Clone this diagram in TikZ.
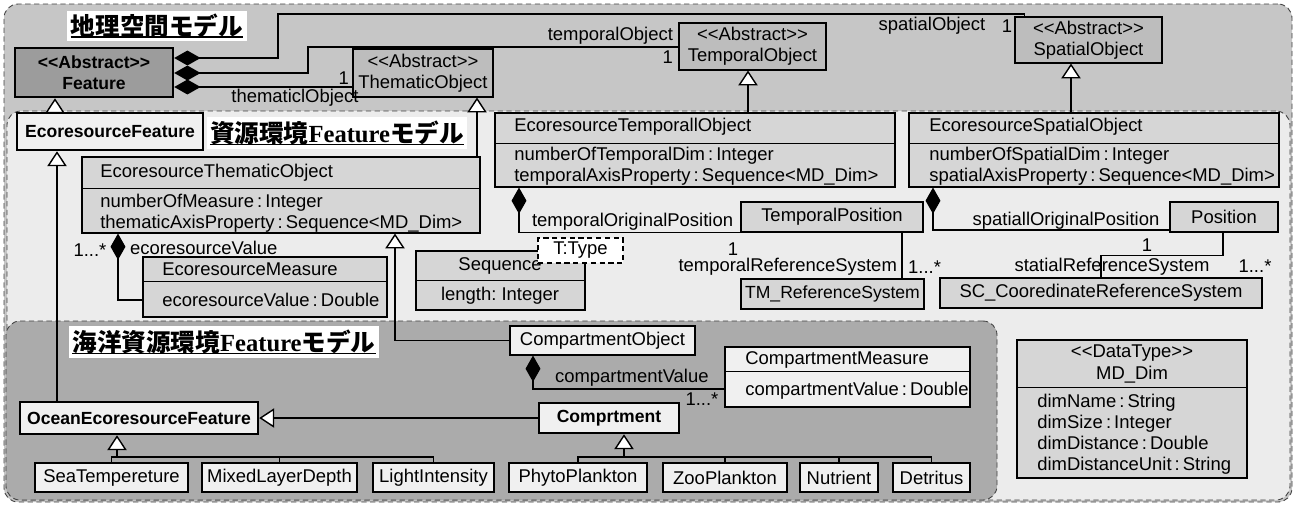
\documentclass[tikz,border=0pt]{standalone}
\usepackage{fontspec}
\setmainfont{Liberation Sans}
\newfontfamily\cjk{Noto Sans CJK JP}
\newfontfamily\rmtitle{Liberation Serif}
\usetikzlibrary{arrows.meta, fit, backgrounds, calc, positioning}
\definecolor{GeoF} {HTML}{C6C6C6}
\definecolor{ResF} {HTML}{ECECEC}
\definecolor{SeaF} {HTML}{ABABAB}
\definecolor{AbsF} {HTML}{BDBDBD}
\definecolor{FeatF}{HTML}{9C9C9C}
\definecolor{ClsF} {HTML}{D6D6D6}
\definecolor{LitF} {HTML}{F0F0F0}
\tikzset{
  cls/.style={
    rectangle, draw=black, fill=#1, inner sep=0pt,
    line width=0.6pt,
  },
  cls/.default=ClsF,
  bcls/.style={cls=#1, line width=1.4pt},
  bcls/.default=LitF,
  leaf/.style={cls=LitF, line width=1.4pt},
  % centred class caption
  cap/.style={label={[lbl, align=center]center:{#1}}},
  bcap/.style={label={[lbl, align=center, font=\fontsize{10}{12}\selectfont\bfseries]center:{#1}}},
  rgn/.style={
    draw=black!75, fill=#1, rounded corners=8pt,
    densely dashed, line width=0.5pt, inner sep=0pt,
  },
  txt/.style={anchor=west, inner sep=0pt, align=left, font=\fontsize{10.5}{12}\selectfont},
  lbl/.style={inner sep=1pt, font=\fontsize{10.5}{12}\selectfont},
  ttl/.style={fill=white, inner sep=2pt, font=\fontsize{14}{16}\selectfont\bfseries},
  uline/.style={line width=1.1pt},
  comp/.style={{Diamond[length=15pt,width=8.5pt]}-, line width=0.8pt},
  gen/.style={-{Triangle[length=8.5pt,width=11pt,fill=white]}, line width=0.8pt},
  asc/.style={line width=0.8pt},
}
\newcommand{\stereo}[1]{<{}<#1>{}>}
\begin{document}
\begin{tikzpicture}[x=0.02cm, y=-0.02cm]
  \useasboundingbox (0,0) rectangle (1295,505);
  % packages
  \node[rgn=GeoF, fit={(4,4) (1292,502)}]   (geo) {};
  \node[rgn=ResF, fit={(7,111) (1290,500)}] (res) {};
  \node[rgn=SeaF, fit={(6,321) (997,500)}]  (sea) {};
  \node[ttl] (geottl) at (157,26)  {\cjk 地理空間モデル};
  \node[ttl] (resttl) at (337,133) {{\cjk 資源環境}{\rmtitle Feature}{\cjk モデル}};
  \node[ttl] (seattl) at (224,342) {{\cjk 海洋資源環境}{\rmtitle Feature}{\cjk モデル}};
  \foreach \tt in {geottl, resttl, seattl}
    \draw[uline] ([xshift=2pt,yshift=2.5pt]\tt.south west) -- ([xshift=-2pt,yshift=2.5pt]\tt.south east);

  % geographic model
  \node[bcls=FeatF, bcap={\stereo{Abstract}\\Feature}, fit={(15,48) (173,97)}] (feat) {};
  \node[cls=AbsF, cap={\stereo{Abstract}\\ThematicObject}, fit={(353,49) (493,97)}]  (thm) {};
  \node[cls=AbsF, cap={\stereo{Abstract}\\TemporalObject}, fit={(679,23) (826,70)}]  (tmp) {};
  \node[cls=AbsF, cap={\stereo{Abstract}\\SpatialObject}, fit={(1015,17) (1162,63)}] (spa) {};

  \draw[comp] (feat.east |- 0,58) -| (278,14) -| ($(spa.north west)+(10,0)$);
  \node[lbl] (spal) at (932,26)  {spatialObject};
  \node[lbl] (spam) at (1007,26) {1};
  \draw[comp] (feat.east |- 0,73) -| (308,47) -- (tmp.west |- 0,47);
  \node[lbl, anchor=south east] (tmpl) at (675,46) {temporalObject};
  \node[lbl, anchor=north east] (tmpm) at (675,49) {1};
  \draw[comp] (feat.east |- 0,87) -- (thm.west |- 0,87);
  \node[lbl, anchor=south east] (thmm) at (351,87) {1};
  \node[lbl] (thml) at (295,98) {thematiclObject};

  % ecoresource feature model
  \node[bcls, bcap=EcoresourceFeature, fit={(17,113) (203,150)}] (ecf) {};

  \node[cls, fit={(82,157) (480,233)}] (eto) {};
  \node[txt] (etoh) at (100,173) {EcoresourceThematicObject};
  \node[txt] (etoa) at (100,213) {numberOfMeasure\,:\,Integer\\thematicAxisProperty\,:\,Sequence<MD\_Dim>};
  \draw (eto.west |- 0,188) -- (eto.east |- 0,188);

  \node[cls, fit={(495,113) (895,187)}] (etp) {};
  \node[txt] (etph) at (514,127) {EcoresourceTemporallObject};
  \node[txt] (etpa) at (514,166) {numberOfTemporalDim\,:\,Integer\\temporalAxisProperty\,:\,Sequence<MD\_Dim>};
  \draw (etp.west |- 0,143) -- (etp.east |- 0,143);

  \node[cls, fit={(909,113) (1279,187)}] (esp) {};
  \node[txt] (esph) at (929,127) {EcoresourceSpatialObject};
  \node[txt] (espa) at (929,166) {numberOfSpatialDim\,:\,Integer\\spatialAxisProperty\,:\,Sequence<MD\_Dim>};
  \draw (esp.west |- 0,143) -- (esp.east |- 0,143);

  \draw[gen] (ecf.north -| 55,0)   -- (feat.south -| 55,0);
  \draw[gen] (eto.north -| 477,0)  -- (thm.south -| 477,0);
  \draw[gen] (etp.north -| 748,0)  -- (tmp.south -| 748,0);
  \draw[gen] (esp.north -| 1071,0) -- (spa.south -| 1071,0);

  \node[cls, fit={(143,257) (387,317)}] (ems) {};
  \node[txt] (emsh) at (162,269) {EcoresourceMeasure};
  \node[txt] (emsa) at (162,300) {ecoresourceValue\,:\,Double};
  \draw (ems.west |- 0,281) -- (ems.east |- 0,281);
  \draw[comp] (eto.south -| 118,0) |- (ems.west |- 0,300);
  \node[lbl] (emsm) at (90,250) {1...*};
  \node[lbl, anchor=west] (emsr) at (128,248) {ecoresourceValue};

  \node[cls, fit={(416,251) (585,310)}] (seq) {};
  \node[lbl] (seqh) at (500,266) {Sequence};
  \node[lbl] (seqa) at (500,296) {length:\ Integer};
  \draw (seq.west |- 0,280) -- (seq.east |- 0,280);
  \node[cls=white, densely dashed, cap={T:Type}, fit={(538,238) (623,263)}] (seqt) {};

  \node[cls, cap=TemporalPosition, fit={(741,202) (923,232)}] (tpos) {};
  \node[cls, label={[lbl, font=\fontsize{10}{12}\selectfont]center:TM\_ReferenceSystem},
        fit={(741,279) (924,309)}] (tmrs) {};
  \node[cls, cap=Position, fit={(1170,202) (1278,232)}] (pos) {};
  \node[cls, cap=SC\_CooredinateReferenceSystem, fit={(940,278) (1262,308)}] (scrs) {};

  \draw[comp] (etp.south -| 519,0) |- (tpos.south west);
  \node[lbl, anchor=west] (tposr) at (530,222) {temporalOriginalPosition};
  \node[lbl] (tposm) at (733,249) {1};
  \draw[asc] (tpos.south -| 902,0) -- (tmrs.north -| 902,0);
  \node[lbl, anchor=east] (tmrsr) at (899,267) {temporalReferenceSystem};
  \node[lbl, anchor=west] (tmrsm) at (906,267) {1...*};

  \draw[comp] (esp.south -| 933,0) |- (pos.west |- 0,230);
  \node[lbl] (posr) at (1066,221) {spatiallOriginalPosition};
  \draw[asc] (pos.south -| 1223,0) -- ++(0,23) -| (scrs.north -| 1101,0);
  \node[lbl] (posm) at (1147,245) {1};
  \node[lbl] (scrsr) at (1112,267) {statialReferenceSystem};
  \node[lbl] (scrsm) at (1255,266) {1...*};

  \node[cls, fit={(1017,340) (1247,478)}] (mdd) {};
  \node[lbl, align=center] (mddh) at (1132,364) {\stereo{DataType}\\MD\_Dim};
  \node[txt] (mdda) at (1037,434) {dimName\,:\,String\\dimSize\,:\,Integer\\dimDistance\,:\,Double\\dimDistanceUnit\,:\,String};
  \draw (mdd.west |- 0,387) -- (mdd.east |- 0,387);

  % ocean ecoresource feature model
  \node[cls=LitF, cap=CompartmentObject, fit={(510,326) (695,355)}] (cob) {};
  \node[cls=LitF, fit={(725,347) (970,407)}] (cms) {};
  \node[txt] (cmsh) at (745,360) {CompartmentMeasure};
  \node[txt] (cmsa) at (745,391) {compartmentValue\,:\,Double};
  \draw (cms.west |- 0,371) -- (cms.east |- 0,371);
  \draw[comp] (cob.south -| 533,0) |- (cms.west |- 0,389);
  \node[lbl, anchor=west] (cmsr) at (553,378) {compartmentValue};
  \node[lbl] (cmsm) at (702,399) {1...*};

  \node[bcls, bcap=Comprtment, fit={(539,403) (679,433)}] (cpt) {};
  \node[bcls, bcap=OceanEcoresourceFeature, fit={(20,402) (258,434)}]  (oef) {};

  \draw[gen] (cob.west) -| (eto.south -| 395,0);
  \draw[gen] (cpt.west) -- (oef.east);
  \draw[gen] (oef.north -| 57,0) -- (ecf.south -| 57,0);

  \foreach \nm/\xa/\xb/\txt in {st/35/188/SeaTempereture, mld/202/357/MixedLayerDepth,
      li/373/494/LightIntensity, pp/509/647/PhytoPlankton, zp/663/787/ZooPlankton,
      nu/800/878/Nutrient, de/893/970/Detritus}
    \node[leaf, cap=\txt, fit={(\xa,463) (\xb,492)}] (\nm) {};

  \coordinate (oefbar) at (117,457);
  \draw[gen] (oefbar) -- (oef.south -| oefbar);
  \foreach \nm in {st, mld, li}
    \draw[asc] (\nm.north) |- (oefbar);
  \coordinate (cptbar) at (624,457);
  \draw[gen] (cptbar) -- (cpt.south -| cptbar);
  \foreach \nm in {pp, zp, nu, de}
    \draw[asc] (\nm.north) |- (cptbar);
\end{tikzpicture}
\end{document}
